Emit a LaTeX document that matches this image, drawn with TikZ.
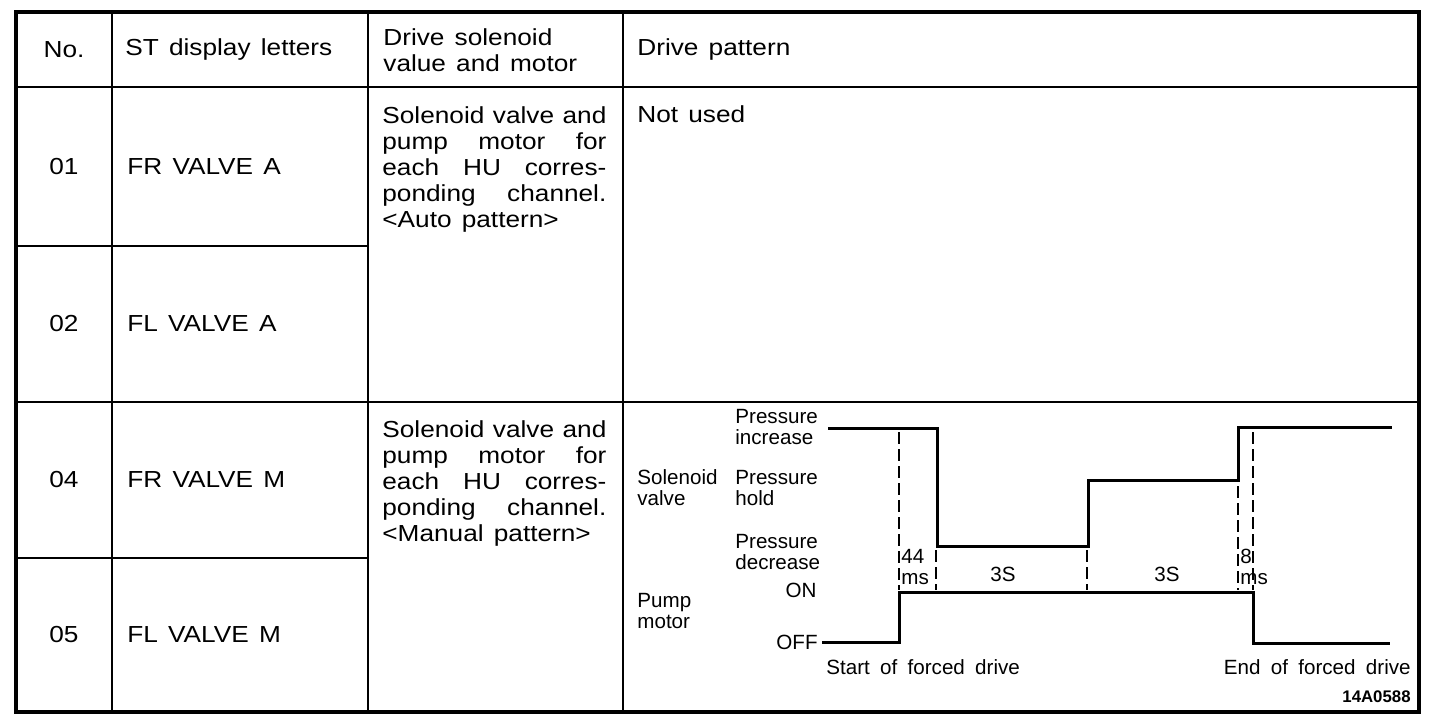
\documentclass[tikz,border=0pt]{standalone}
\usepackage{fontspec}
\setmainfont{Liberation Sans}[FakeStretch=1.13,WordSpace=1.4]
\newfontfamily\chartfont{Liberation Sans}[WordSpace=1.8]

\begin{document}
\begin{tikzpicture}[x=0.5pt,y=-0.5pt,
    txt/.style={inner sep=0pt,font=\fontsize{11.6}{13}\selectfont},
    small/.style={inner sep=0pt,align=left,font=\chartfont\fontsize{10.3}{10.6}\selectfont},
    wave/.style={line width=1.5pt},
    guide/.style={line width=0.8pt,dash pattern=on 6pt off 2.5pt}]
      \useasboundingbox (0,0) rectangle (1456,722);
      % table frame
      \draw[line width=1.6pt] (16,12) rectangle (1419,712);
    \foreach \x in {112, 368, 623} {
        \draw[line width=1.1pt] (\x, 12) -- (\x, 712);
    }
    \foreach \y in {87, 402} {
        \draw[line width=1.1pt] (16, \y) -- (1419, \y);
    }
    \foreach \y in {246, 558} {
        \draw[line width=1.1pt] (16, \y) -- (368, \y);
    }
      % header
      \node[txt] (hno) at (64,50) {No.};
      \node[txt,right] (hst) at (125,50) {ST display letters};
      \node[txt,right,align=left] (hdrive) at (383,50) {Drive solenoid\\value and motor};
      \node[txt,right] (hpat) at (637,50) {Drive pattern};
    % rows
    \foreach \n/\t/\y in {01/FR VALVE A/167, 02/FL VALVE A/324, 04/FR VALVE M/480, 05/FL VALVE M/635} {
        \node[txt] (no\n) at (64,\y) {\n};
        \node[txt,right] (st\n) at (127,\y) {\t};
    }
      \node[txt,below right,text width=112pt,align=justify] (auto) at (382,106)
          {Solenoid valve and\linebreak pump motor for\linebreak each HU corres-\linebreak ponding channel.\linebreak <Auto pattern>};
      \node[txt,below right,text width=112pt,align=justify] (manual) at (382,420)
          {Solenoid valve and\linebreak pump motor for\linebreak each HU corres-\linebreak ponding channel.\linebreak <Manual pattern>};
      \node[txt,right] (unused) at (637,114) {Not used};
      % drive pattern
      \draw[wave] (828,428) -- (937,428) -- (937,546) -- (1088,546) -- (1088,480) -- (1238,480) -- (1238,427) -- (1392,427);
      \draw[wave] (822,642) -- (899,642) -- (899,592) -- (1253,592) -- (1253,643) -- (1390,643);
    \foreach \x/\a in {899/432, 936/550, 1087/550, 1238/486, 1253/432} {
        \draw[guide] (\x, \a) -- (\x, 590);
    }
      \node[small,right] (sol) at (637,488) {Solenoid\\valve};
      \node[small,right] (pinc) at (735,427) {Pressure\\increase};
      \node[small,right] (phold) at (735,488) {Pressure\\hold};
      \node[small,right] (pdec) at (735,552) {Pressure\\decrease};
      \node[small,right] (pump) at (637,611) {Pump\\motor};
      \node[small,left] (on) at (817,590) {ON};
      \node[small,left] (off) at (818,642) {OFF};
      \node[small,right] (t44) at (901,567) {44\\ms};
      \node[small] (t3a) at (1003,574) {3S};
      \node[small] (t3b) at (1167,574) {3S};
      \node[small,right] (t8) at (1240,567) {8\\ms};
      \node[small,right] (start) at (826,667) {Start of forced drive};
      \node[small,left] (end) at (1411,667) {End of forced drive};
      \node[small,left,font=\chartfont\bfseries\fontsize{8.4}{8.4}\selectfont] (code) at (1411,697) {14A0588};
\end{tikzpicture}
\end{document}
